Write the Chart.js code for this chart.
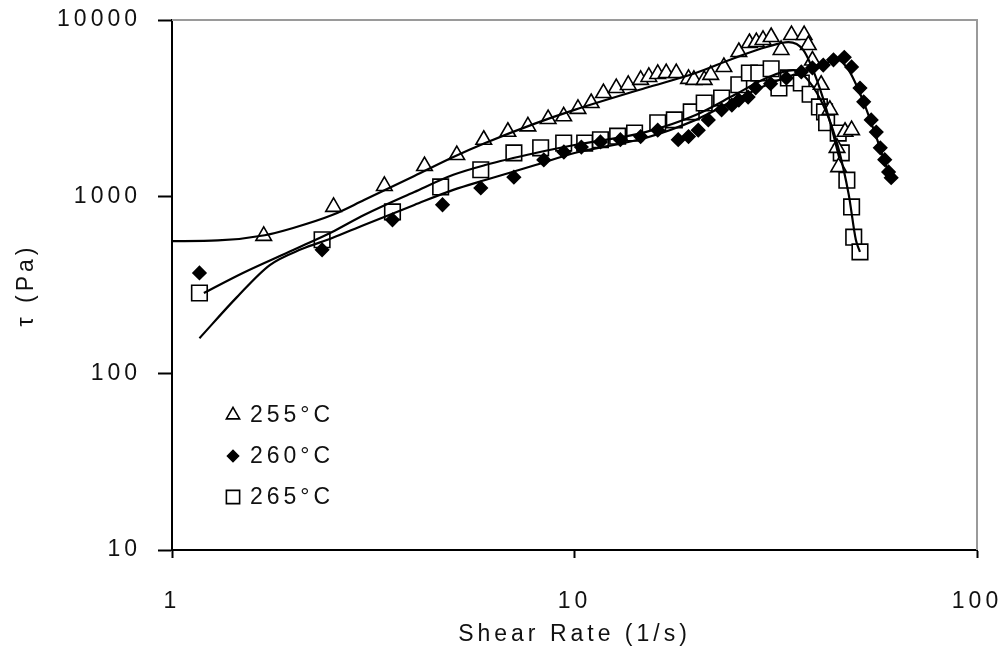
<!DOCTYPE html>
<html>
<head>
<meta charset="utf-8">
<script src="https://cdn.jsdelivr.net/npm/chart.js@4.4.0/dist/chart.umd.min.js"></script>
<style>
	body { margin: 0; background: #fff; }
	#wrap { width: 1005px; height: 650px; }
</style>
</head>
<body>
<div id="wrap"><canvas id="myChart" width="1005" height="650"></canvas></div>
<script>
const xTicks = [1, 10, 100],
	  yTicks = [10, 100, 1000, 10000],
	  legendLabels = ['255°C', '260°C', '265°C'];

// measured points (shear rate 1/s, tau Pa)
const rate255 = [1.69, 2.52, 3.37, 4.24, 5.1, 5.95, 6.83, 7.66, 8.6, 9.4, 10.2, 11.0, 11.8, 12.7, 13.6, 14.6, 15.3, 16.1, 16.9, 17.9, 19.2, 19.8, 21.0, 21.8, 23.5, 25.6, 27.2, 28.3, 29.4, 30.8, 32.6, 34.6, 37.2, 38.1, 39.0, 41.0, 43.1, 44.9, 45.3, 47.0, 48.8],
	  tau255 = [600, 875, 1150, 1490, 1720, 2100, 2330, 2500, 2750, 2850, 3140, 3390, 3860, 4120, 4290, 4580, 4760, 4950, 5010, 5010, 4640, 4580, 4580, 4890, 5420, 6590, 7410, 7500, 7710, 8010, 6770, 8220, 8220, 7220, 5900, 4300, 3100, 1890, 1470, 2330, 2380];

const rate260 = [1.17, 2.36, 3.53, 4.70, 5.85, 7.07, 8.39, 9.41, 10.4, 11.6, 13.0, 14.6, 16.1, 18.1, 19.2, 20.3, 21.5, 23.2, 24.6, 25.6, 27.0, 28.2, 30.7, 33.6, 36.6, 39.0, 41.5, 44.0, 46.8, 48.8, 51.2, 52.3, 54.6, 56.2, 57.5, 59.0, 60.3, 61.2],
	  tau260 = [370, 500, 740, 900, 1120, 1290, 1615, 1790, 1910, 2040, 2100, 2190, 2380, 2100, 2190, 2380, 2720, 3100, 3300, 3520, 3660, 4130, 4360, 4690, 5080, 5350, 5560, 5950, 6150, 5420, 4120, 3440, 2720, 2320, 1890, 1620, 1380, 1280];

const rate265 = [1.17, 2.36, 3.53, 4.65, 5.85, 7.07, 8.24, 9.4, 10.6, 11.6, 12.8, 14.1, 16.1, 17.7, 19.5, 21.0, 23.2, 25.6, 27.2, 28.7, 30.8, 32.2, 34.0, 36.6, 38.5, 40.6, 41.8, 42.3, 45.2, 46.0, 47.5, 48.8, 49.4, 51.2],
	  tau265 = [285, 570, 820, 1135, 1420, 1770, 1890, 2010, 2010, 2100, 2200, 2290, 2620, 2720, 3020, 3390, 3620, 4300, 5010, 5010, 5300, 4120, 4700, 4400, 3800, 3220, 3020, 2620, 2290, 1770, 1240, 875, 590, 487];

// fitted curves
const fitRate255 = [1, 1.3, 1.7, 2, 2.5, 3, 4, 5, 6, 8, 10, 15, 20, 25, 30, 34, 37, 40, 43, 45.5],
	  fitTau255 = [560, 565, 605, 665, 787, 957, 1310, 1677, 2013, 2600, 3100, 4120, 5010, 6100, 7030, 7500, 6770, 4580, 2720, 1650];

const fitRate260 = [1.17, 1.45, 1.75, 2.1, 2.5, 3, 4, 5, 6, 8, 10, 15, 20, 25, 30, 35, 40, 45, 48, 52, 56, 60, 61.5],
	  fitTau260 = [158, 270, 410, 505, 583, 692, 898, 1092, 1242, 1510, 1767, 2150, 2720, 3520, 4290, 4900, 5420, 5950, 5200, 3530, 2230, 1420, 1280];

const fitRate265 = [1.2, 1.5, 2, 2.5, 3, 4, 5, 6, 8, 10, 15, 20, 25, 30, 35, 38, 42, 45, 48, 50, 51.2],
	  fitTau265 = [285, 370, 499, 631, 787, 1063, 1330, 1510, 1767, 1960, 2320, 2900, 3770, 4700, 5200, 4580, 3100, 1970, 1030, 570, 487];

const pts = (xs, ys) => xs.map((x, i) => ({ x: x, y: ys[i] }));

const fitLine = (xs, ys) => ({
	data: pts(xs, ys),
	showLine: true,
	borderColor: '#000',
	borderWidth: 2.2,
	pointRadius: 0,
	cubicInterpolationMode: 'monotone',
	fill: false
});

const markStyles = [
	{ pointStyle: 'triangle', pointRadius: 9, backgroundColor: '#fff' },
	{ pointStyle: 'rectRot', pointRadius: 6.5, backgroundColor: '#000' },
	{ pointStyle: 'rect', pointRadius: 11, backgroundColor: '#fff' }
];

const marks = (xs, ys, s) => ({
	data: pts(xs, ys),
	showLine: false,
	pointStyle: s.pointStyle,
	pointRadius: s.pointRadius,
	pointBackgroundColor: s.backgroundColor,
	pointBorderColor: '#000',
	pointBorderWidth: 1.6
});

const font = { family: "'Liberation Sans', Arial, sans-serif", size: 23 };
const txt = '#111';

// letter spacing like the original
const spacing = {
	id: 'spacing',
	beforeLayout(chart) { chart.ctx.letterSpacing = '4px'; },
	beforeDraw(chart) { chart.ctx.letterSpacing = '4px'; }
};

// grey frame top and right
const frame = {
	id: 'frame',
	beforeDatasetsDraw(chart) {
		const { ctx, chartArea: a } = chart;
		ctx.save();
		ctx.strokeStyle = '#9a9a9a';
		ctx.lineWidth = 2;
		ctx.beginPath();
		ctx.moveTo(a.left, a.top);
		ctx.lineTo(a.right, a.top);
		ctx.lineTo(a.right, a.bottom);
		ctx.stroke();
		ctx.restore();
	}
};

// legend inside the plot
const legendBox = {
	id: 'legendBox',
	afterDatasetsDraw(chart) {
		const { ctx, chartArea: a } = chart;
		ctx.save();
		ctx.font = `${font.size}px ${font.family}`;
		ctx.textBaseline = 'middle';
		ctx.textAlign = 'left';
		legendLabels.forEach((lab, i) => {
			const s = markStyles[i];
			const y = a.top + 395 + i * 41;
			const x = a.left + 61;
			ctx.fillStyle = s.backgroundColor;
			ctx.strokeStyle = '#000';
			ctx.lineWidth = 1.6;
			Chart.helpers.drawPoint(ctx, { pointStyle: s.pointStyle, radius: s.pointRadius * 0.85, rotation: 0, borderWidth: 1.6 }, x, y);
			ctx.fillStyle = txt;
			ctx.fillText(lab, x + 17, y + 1);
		});
		ctx.restore();
	}
};

const data = {
	datasets: [
		fitLine(fitRate255, fitTau255),
		fitLine(fitRate260, fitTau260),
		fitLine(fitRate265, fitTau265),
		marks(rate260, tau260, markStyles[1]),
		marks(rate255, tau255, markStyles[0]),
		marks(rate265, tau265, markStyles[2])
	]
};

const viewChart = {
	type: 'scatter',
	data: data,
	plugins: [spacing, frame, legendBox],
	options: {
		responsive: false,
		animation: false,
		devicePixelRatio: 1,
		layout: { padding: { top: 20, right: 28, left: 0, bottom: 0 } },
		plugins: { legend: { display: false }, tooltip: { enabled: false } },
		scales: {
			x: {
				type: 'logarithmic',
				min: 1,
				max: 100,
				afterBuildTicks: ax => { ax.ticks = xTicks.map(v => ({ value: v })); },
				afterFit: ax => { ax.height = 100; ax.paddingLeft = 0; ax.paddingRight = 0; },
				border: { color: '#000', width: 2 },
				grid: { drawOnChartArea: false, drawTicks: true, tickLength: 8, tickColor: '#000', tickWidth: 2 },
				ticks: { color: txt, font: font, padding: 30, maxRotation: 0, autoSkip: false, callback: v => String(v) },
				title: { display: true, text: 'Shear Rate (1/s)', color: txt, font: font, padding: { top: 0, bottom: 2 } }
			},
			y: {
				type: 'logarithmic',
				min: 10,
				max: 10000,
				afterBuildTicks: ax => { ax.ticks = yTicks.map(v => ({ value: v })); },
				afterFit: ax => { ax.width = 172; ax.paddingTop = 0; ax.paddingBottom = 0; },
				border: { color: '#000', width: 2 },
				grid: { drawOnChartArea: false, drawTicks: true, tickLength: 14, tickColor: '#000', tickWidth: 2 },
				ticks: { color: txt, font: font, padding: 17, autoSkip: false, callback: v => String(v) },
				title: { display: true, text: 'τ (Pa)', color: txt, font: font, padding: { top: 13, bottom: 0 } }
			}
		}
	}
};

const chart = document.getElementById('myChart');
const myChart = new Chart(chart, viewChart);
</script>
</body>
</html>
